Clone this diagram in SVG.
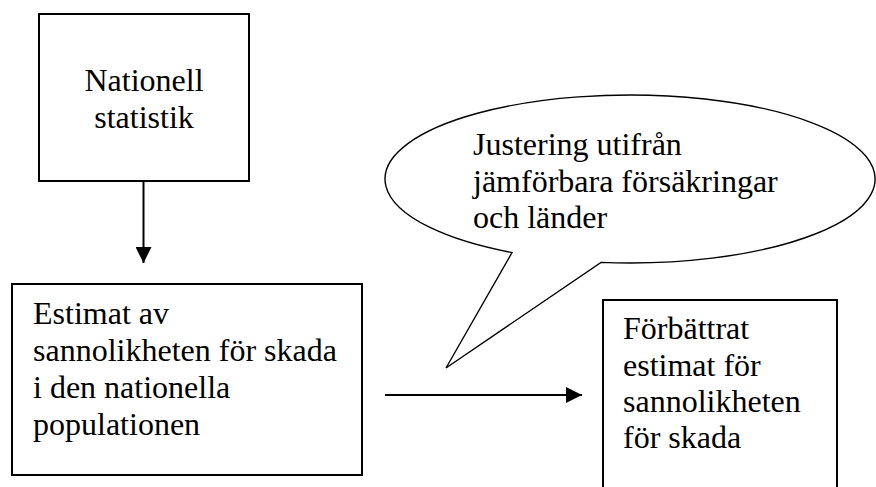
<svg xmlns="http://www.w3.org/2000/svg" width="876" height="487" viewBox="0 0 876 487">
<defs>
<style>
.box{fill:#fff;stroke:#000;stroke-width:2}
.t{font-family:"Liberation Serif","Times New Roman",serif;font-size:32px;fill:#000}
.c{text-anchor:middle}
.ln{stroke:#000;stroke-width:2;fill:none}
</style>
<marker id="ah" markerWidth="16" markerHeight="16" viewBox="0 0 16 16" refX="16" refY="8" orient="auto" markerUnits="userSpaceOnUse">
<path d="M0,0 L16,8 L0,16 Z" fill="#000"/>
</marker>
</defs>
<rect width="876" height="487" fill="#fff"/>
<g id="connectors">
<line class="ln" x1="143.5" y1="181" x2="143.5" y2="263" marker-end="url(#ah)"/>
<line class="ln" x1="385" y1="395" x2="582" y2="395" marker-end="url(#ah)"/>
</g>
<g id="nationell">
<rect class="box" x="39" y="14" width="210" height="167"/>
<text class="t c" x="144" y="91">Nationell</text>
<text class="t c" x="144" y="128">statistik</text>
</g>
<g id="estimat">
<rect class="box" x="12" y="284" width="350" height="191"/>
<text class="t" x="33" y="324">Estimat av</text>
<text class="t" x="33" y="361">sannolikheten för skada</text>
<text class="t" x="33" y="398">i den nationella</text>
<text class="t" x="33" y="435">populationen</text>
</g>
<g id="justering">
<path d="M512 252.6 A245 84 0 1 1 601 262.4 L446 368 Z" fill="#fff" stroke="#000" stroke-width="1.4" stroke-linejoin="miter"/>
<text class="t" x="473" y="155">Justering utifrån</text>
<text class="t" x="473" y="192">jämförbara försäkringar</text>
<text class="t" x="473" y="228">och länder</text>
</g>
<g id="forbattrat">
<rect class="box" x="603" y="300" width="234" height="200"/>
<text class="t" x="623" y="339">Förbättrat</text>
<text class="t" x="623" y="376">estimat för</text>
<text class="t" x="623" y="412">sannolikheten</text>
<text class="t" x="623" y="448">för skada</text>
</g>
</svg>
